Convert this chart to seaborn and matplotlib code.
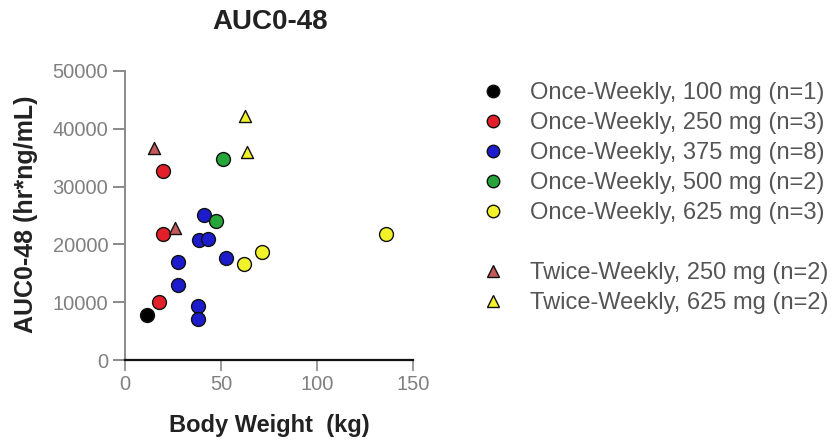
import matplotlib
matplotlib.use("Agg")
import matplotlib.pyplot as plt
import seaborn as sns
import pandas as pd
from matplotlib.lines import Line2D

sns.set_theme(style="white")
plt.rcParams['font.family'] = ['Liberation Sans', 'DejaVu Sans']

# Data
ow100_x = [11.3]
ow100_y = [7800]
ow250_x = [19.6, 19.9, 17.5]
ow250_y = [32700, 21800, 10000]
ow375_x = [41.4, 38.7, 43.0, 27.7, 27.7, 38.0, 38.0, 52.5]
ow375_y = [25100, 20700, 21000, 16950, 13050, 9400, 7100, 17650]
ow500_x = [50.8, 47.3]
ow500_y = [34800, 24100]
ow625_x = [62.1, 71.1, 135.8]
ow625_y = [16600, 18700, 21800]
tw250_x = [15.1, 26.0]
tw250_y = [36700, 22800]
tw625_x = [62.6, 63.5]
tw625_y = [42300, 36000]

groups = [
    ("Once-Weekly, 100 mg (n=1)", ow100_x, ow100_y, "o", "#000000"),
    ("Once-Weekly, 250 mg (n=3)", ow250_x, ow250_y, "o", "#e3202a"),
    ("Once-Weekly, 375 mg (n=8)", ow375_x, ow375_y, "o", "#1c1ccc"),
    ("Once-Weekly, 500 mg (n=2)", ow500_x, ow500_y, "o", "#25a53a"),
    ("Once-Weekly, 625 mg (n=3)", ow625_x, ow625_y, "o", "#f2f22a"),
    ("Twice-Weekly, 250 mg (n=2)", tw250_x, tw250_y, "^", "#c4585a"),
    ("Twice-Weekly, 625 mg (n=2)", tw625_x, tw625_y, "^", "#f2f22a"),
]

W, H = 839, 445
fig = plt.figure(figsize=(W / 100, H / 100), dpi=100)
ax = fig.add_axes([125 / W, 1 - 360 / H, (413 - 125) / W, (360 - 71) / H])

rows = []
for label, xs, ys, m, c in groups:
    for x, y in zip(xs, ys):
        rows.append({"group": label, "x": x, "y": y})
df = pd.DataFrame(rows)

for label, xs, ys, m, c in groups:
    sub = df[df["group"] == label]
    s = 100 if m == "o" else 75
    sns.scatterplot(data=sub, x="x", y="y", ax=ax, marker=m, color=c, s=s,
                    edgecolor="#111111", linewidth=1.0, clip_on=False, zorder=3,
                    legend=False)

ax.set_xlim(0, 150)
ax.set_ylim(0, 50000)
ax.set_xticks([0, 50, 100, 150])
ax.set_yticks([0, 10000, 20000, 30000, 40000, 50000])
ax.set_yticklabels(["0", "10000", "20000", "30000", "40000", "50000"])
for sp in ["top", "right"]:
    ax.spines[sp].set_visible(False)
ax.spines["left"].set_color("#8a8a8a")
ax.spines["left"].set_linewidth(1.4)
ax.spines["bottom"].set_color("#111111")
ax.spines["bottom"].set_linewidth(1.6)
ax.tick_params(axis="y", which="major", direction="out", length=9, width=1.4,
               color="#8a8a8a", labelcolor="#808080", labelsize=14.5, pad=3, left=True)
ax.tick_params(axis="x", which="major", direction="out", length=8, width=1.2,
               color="#8a8a8a", labelcolor="#808080", labelsize=14.5, pad=3, bottom=True)
ax.set_xlabel("Body Weight  (kg)", fontsize=17, fontweight="bold", color="#222222")
ax.set_ylabel("AUC0-48 (hr*ng/mL)", fontsize=18, fontweight="bold", color="#222222")
ax.xaxis.set_label_coords(0.5, -(414 - 360) / 289)
ax.yaxis.set_label_coords(-(125 - 38) / 288, (360 - 214) / 289)
ax.grid(False)
fig.text(270 / W, 1 - 22 / H, "AUC0-48", fontsize=20, fontweight="bold",
         color="#222222", ha="center", va="center")

handles = []
labels = []
for i, (label, xs, ys, m, c) in enumerate(groups):
    if i == 5:
        handles.append(Line2D([], [], linestyle="none", marker=None))
        labels.append(" ")
    ms = 9 if m == "o" else 8
    handles.append(Line2D([], [], linestyle="none", marker=m, markerfacecolor=c,
                          markeredgecolor="#111111", markersize=ms, markeredgewidth=1.0))
    labels.append(label)

leg = fig.legend(handles, labels, loc="upper left",
                 bbox_to_anchor=(485 / W, 1 - 82 / H), frameon=False,
                 fontsize=17, handlelength=0.7, handletextpad=1.2,
                 labelspacing=0.34, borderpad=0, borderaxespad=0)
for t in leg.get_texts():
    t.set_color("#555555")

fig.savefig("out.png", dpi=100)
